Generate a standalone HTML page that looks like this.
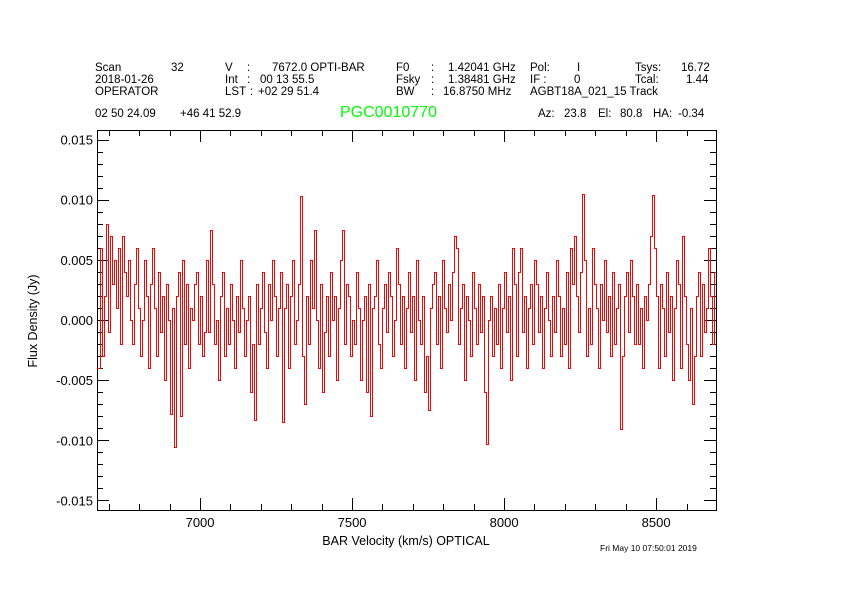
<!DOCTYPE html>
<html><head><meta charset="utf-8"><style>
body{margin:0;background:#fff;}
svg{display:block;font-family:"Liberation Sans",sans-serif;}
text{fill:#000;white-space:pre;}
</style></head><body>
<svg id="c" width="842" height="595" viewBox="0 0 842 595" xmlns="http://www.w3.org/2000/svg" xml:space="preserve">
<rect width="842" height="595" fill="#fff"/>
<g font-size="11.5">
<text x="95" y="71">Scan</text><text x="171" y="71">32</text>
<text x="95" y="83">2018-01-26</text>
<text x="95" y="95">OPERATOR</text>
<text x="225" y="71">V</text><text x="247" y="71">:</text><text x="272" y="71">7672.0 OPTI-BAR</text>
<text x="225" y="83">Int</text><text x="247" y="83">:</text><text x="260" y="83">00 13 55.5</text>
<text x="225" y="95">LST</text><text x="250" y="95">:</text><text x="258" y="95">+02 29 51.4</text>
<text x="396" y="71">F0</text><text x="431" y="71">:</text><text x="448" y="71">1.42041 GHz</text>
<text x="396" y="83">Fsky</text><text x="431" y="83">:</text><text x="448" y="83">1.38481 GHz</text>
<text x="396" y="95">BW</text><text x="431" y="95">:</text><text x="443" y="95">16.8750 MHz</text>
<text x="530" y="71">Pol:</text><text x="577" y="71">I</text>
<text x="530" y="83">IF :</text><text x="574" y="83">0</text>
<text x="530" y="95">AGBT18A_021_15 Track</text>
<text x="635" y="71">Tsys:</text><text x="681" y="71">16.72</text>
<text x="635" y="83">Tcal:</text><text x="686" y="83">1.44</text>
<text x="95" y="117">02 50 24.09</text><text x="180" y="117">+46 41 52.9</text>
<text x="538" y="117">Az:</text><text x="564" y="117">23.8</text><text x="598" y="117">El:</text><text x="620" y="117">80.8</text><text x="653" y="117">HA:</text><text x="678" y="117">-0.34</text>
</g>
<text x="340" y="117" font-size="16" style="fill:#00ff00">PGC0010770</text>
<rect x="97.5" y="130.5" width="619" height="380" fill="none" stroke="#000" stroke-width="1"/>
<g id="axes" shape-rendering="crispEdges"></g>
<clipPath id="clip"><rect x="97" y="130" width="619" height="380"/></clipPath>
<path id="spec" clip-path="url(#clip)" fill="none" stroke="#ff0000" stroke-width="1" shape-rendering="crispEdges"/>
<text x="406" y="545" font-size="12.5" text-anchor="middle">BAR Velocity (km/s) OPTICAL</text>
<text x="0" y="0" font-size="12.5" text-anchor="middle" transform="translate(37,321) rotate(-90)">Flux Density (Jy)</text>
<text x="600" y="551" font-size="8.5">Fri May 10 07:50:01 2019</text>
</svg>
<script>
const vStart = 6661;
const dv = 6.58;
const fluxMJy = [
-4,-4,6,-3,2,8,-1,7,3,5,
1,6,-2,7,4,2,5,0,-2,3,
6,1,-3,0,5,2,-4,3,6,1,
-3,4,-1,2,-5,3,0,-7.8,1,-10.6,
2,4,-8,5,-2,3,-4,1,0,3,
4,-2,2,-3,-1,5,-1,7.5,3,-2,
0,-5,2,4,-3,1,-2,3,0,-4,
2,-1,5,1,-3,0,2,-6,-2,-8.3,
3,-2,1,4,-1,-4,3,0,5,2,
-3,1,4,-8.5,1,3,-4,2,5,-2,
0,3,10.3,-3,-7,2,-2,5,1,7.5,
0,-4,3,-6,-1,2,-3,4,0,2,
-5,1,5,7.5,-2,3,2,-3,0,-2,
4,1,-5,0,2,-6,3,-8,1,2,
5,-2,-4,1,3,-1,4,2,-3,0,
6,3,-2,2,-4,1,4,-1,2,-5,
5,0,-2,2,-6,-3,-7.5,1,3,4,
-2,2,-4,5,1,-1,3,0,4,7,
6,-2,1,3,-5,2,0,-3,4,1,
-2,3,-1,2,-6,-10.3,0,2,-3,1,
-2,3,-4,1,4,-1,2,-5,6,3,
-3,4,6,-1,2,-4,1,3,-2,5,
3,-1,2,-4,1,4,0,-3,2,-1,
5,2,-3,1,-2,4,-4,6,3,7,
2,-1,4,10.5,5,-3,1,-2,6,3,
1,-4,3,0,5,-1,2,-3,4,-2,
1,3,-9.1,-3,2,4,-1,5,2,-2,
3,-2,1,-4,2,0,3,7,10.4,6,
2,-4,3,1,-3,4,-1,2,-5,1,
5,3,-4,7,2,-2,-5,1,-7,-3,
2,4,-3,3,-1,1,6,2,-2,4
];
const xTicks = [7000, 7500, 8000, 8500];
const yTicks = [0.015, 0.010, 0.005, 0.000, -0.005, -0.010, -0.015];
const yTickLabels = ["0.015","0.010","0.005","0.000","-0.005","-0.010","-0.015"];

const X0=97, X1=716, Y0=130, Y1=510;
const vMin=6661, vMax=8697, fMin=-0.0158, fMax=0.0158;
function xs(v){return X0+(v-vMin)/(vMax-vMin)*(X1-X0);}
function ys(f){return Y1-(f-fMin)/(fMax-fMin)*(Y1-Y0);}

const NS='http://www.w3.org/2000/svg';
const ax=document.getElementById('axes');
function line(x1,y1,x2,y2,name){
  const l=document.createElementNS(NS,'line');
  l.setAttribute('x1',x1);l.setAttribute('y1',y1);l.setAttribute('x2',x2);l.setAttribute('y2',y2);
  l.setAttribute('stroke','#000');l.setAttribute('stroke-width','1');
  
  
  ax.appendChild(l);
}
function label(x,y,s,anchor,name){
  const t=document.createElementNS(NS,'text');
  t.setAttribute('x',x);t.setAttribute('y',y);t.setAttribute('font-size','13');
  t.setAttribute('text-anchor',anchor);t.textContent=s;
  
  
  ax.appendChild(t);
}
for(let v=6700; v<=8690; v+=100){
  const x=Math.round(xs(v))+0.5, major=(v%500===0);
  const len=major?12:6;
  line(x,Y1,x,Y1-len,'x-tick');
  line(x,Y0,x,Y0+len,'x-tick-top');
}
xTicks.forEach(v=>label(xs(v),527,String(v),'middle','x-tick-label'));
for(let k=-15;k<=15;k++){
  const y=Math.round(ys(k*0.001))+0.5, major=(k%5===0), len=major?12:6;
  line(X0,y,X0+len,y,'y-tick');
  line(X1,y,X1-len,y,'y-tick-right');
}
yTicks.forEach((f,i)=>label(93,ys(f)+5,yTickLabels[i],'end','y-tick-label'));

let d='';
fluxMJy.forEach((m,i)=>{
  const v=vStart+i*dv;
  const xa=Math.round(xs(v-dv/2))+0.5, xb=Math.round(xs(v+dv/2))+0.5, y=Math.round(ys(m*0.001))+0.5;
  d+=(i===0?'M':'L')+xa+','+y+'L'+xb+','+y;
});
document.getElementById('spec').setAttribute('d',d);
</script>
</body></html>
